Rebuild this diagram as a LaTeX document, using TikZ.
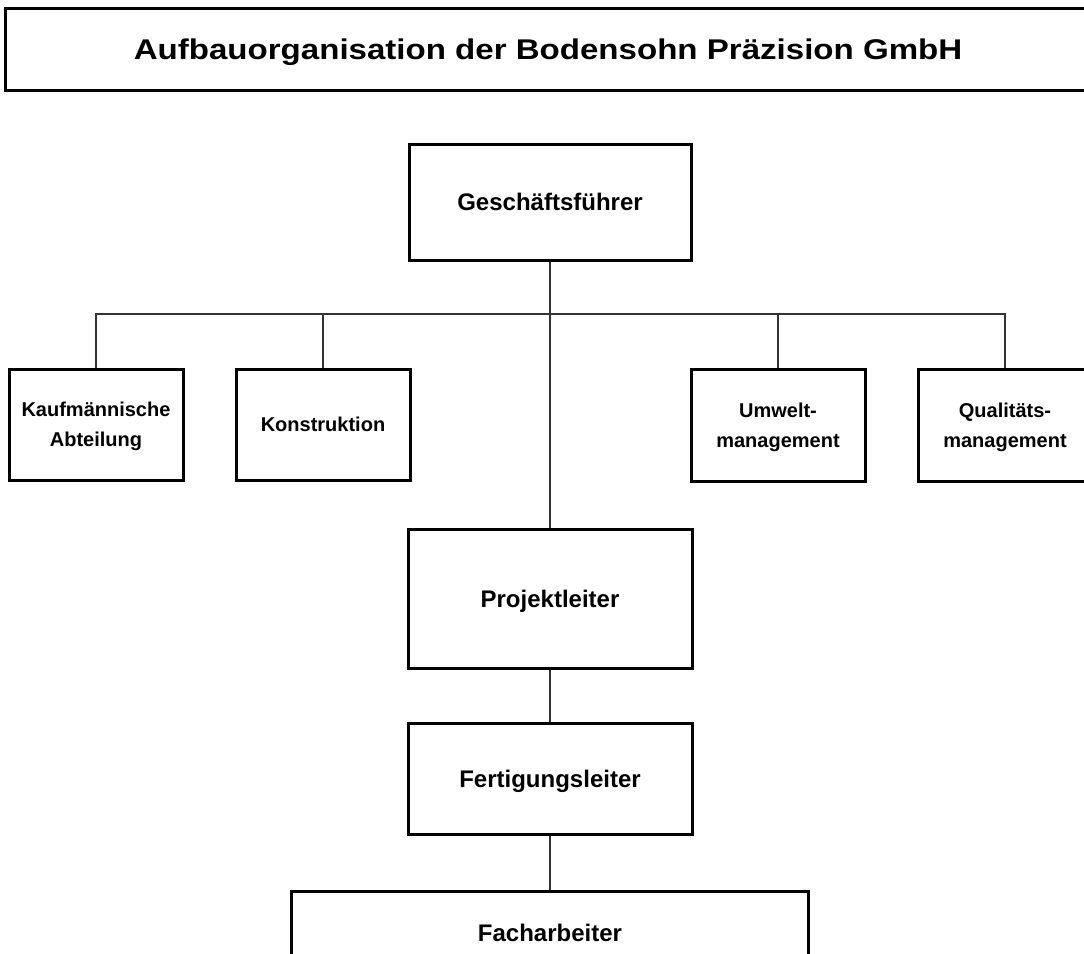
\documentclass[tikz,border=0pt]{standalone}
\usepackage{fontspec}
\setmainfont{Liberation Sans}
\begin{document}
\begin{tikzpicture}[x=1pt,y=-1pt,
  box/.style={draw=black, line width=3pt, rectangle, inner sep=0pt, fill=white},
  big/.style={font=\fontsize{24}{28}\selectfont\bfseries, text height=17.2pt, text depth=0pt},
  small/.style={font=\fontsize{20}{29.6}\selectfont\bfseries, align=center, text height=43.9pt, text depth=0pt},
  smallone/.style={font=\fontsize{20}{29.6}\selectfont\bfseries, text height=14.3pt, text depth=0pt},
  titlefont/.style={font=\fontsize{28.5}{34}\selectfont\bfseries, text height=20.4pt, text depth=0pt, inner sep=0pt},
  link/.style={draw=black!80, line width=1.8pt}]
\useasboundingbox (0,0) rectangle (1084,953);
\clip (0,0) rectangle (1084,953);
% title
\node[box, minimum width=1095pt, minimum height=82pt] (titlebox) at (552.5,49) {};
\node[titlefont] (titletext) at (548,49.5) {\scalebox{1.16}[1]{Aufbauorganisation der Bodensohn Präzision GmbH}};
% boxes
\node[box, big, minimum width=282pt, minimum height=116pt] (gf) at (550,202) {Geschäftsführer};
\node[box, small, minimum width=174pt, minimum height=111pt] (kauf) at (96,424.5) {Kaufmännische\\Abteilung};
\node[box, smallone, minimum width=174pt, minimum height=111pt] (kon) at (323,424.5) {Konstruktion};
\node[box, small, minimum width=174pt, minimum height=112pt] (umw) at (778,425.5) {Umwelt-\\management};
\node[box, small, minimum width=174pt, minimum height=112pt] (qual) at (1005,425.5) {Qualitäts-\\management};
\node[box, big, minimum width=284pt, minimum height=139pt] (pl) at (550,598.5) {Projektleiter};
\node[box, big, minimum width=284pt, minimum height=111pt] (fl) at (550,778.5) {Fertigungsleiter};
\node[box, big, minimum width=517pt, minimum height=84pt] (fa) at (550,933) {Facharbeiter};
% connectors
\coordinate (bus) at (550,314);
\draw[link] (gf.south) -- (pl.north);
\draw[link] (kauf.north) |- (qual.north |- bus) -- (qual.north);
\draw[link] (kon.north) -- (kon.north |- bus);
\draw[link] (umw.north) -- (umw.north |- bus);
\draw[link] (pl.south) -- (fl.north);
\draw[link] (fl.south) -- (fa.north);
\end{tikzpicture}
\end{document}
